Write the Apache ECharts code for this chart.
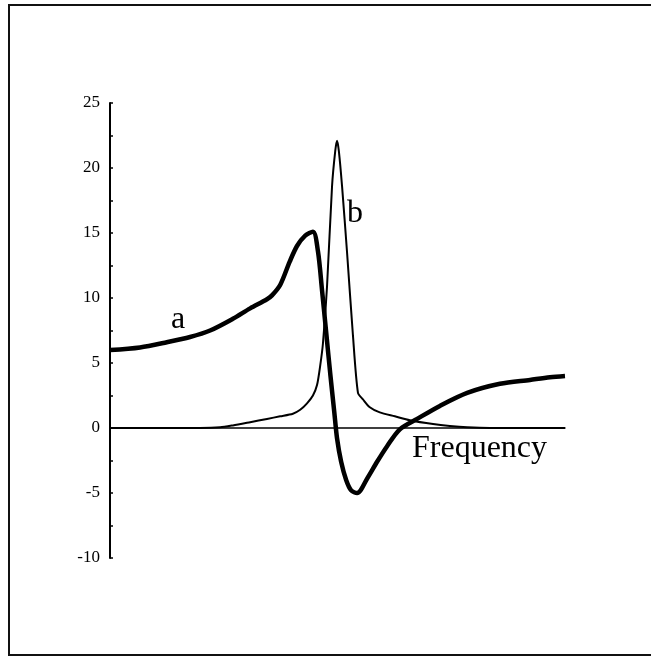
<!DOCTYPE html>
<html>
<head>
<meta charset="utf-8">
<script src="https://cdn.jsdelivr.net/npm/echarts@6/dist/echarts.min.js"></script>
<style>
  html, body { margin: 0; padding: 0; background: #fff; }
  #chart { width: 651px; height: 657px; }
</style>
</head>
<body>
<div id="chart"></div>
<script>
// Frequency response: a = real-part-like curve (thick), b = resonance peak (thin)
var freqA = [0, 6.6, 12.5, 17.6, 22, 27, 30.8, 34.5, 35.6, 37.4, 39.5, 41.1, 42.9, 44.6, 45.7, 46.6, 47.5, 48.4, 49.3, 49.9, 50.8, 51.9, 53.0, 54.3, 56.5, 58.7, 60.9, 63.7, 67.5, 72.5, 78.5, 85.7, 92.3, 96.7, 100];
var valuesA = [6.0, 6.2, 6.6, 7.0, 7.5, 8.4, 9.2, 9.9, 10.2, 11.0, 12.8, 14.0, 14.8, 15.1, 13.6, 10.6, 7.4, 4.2, 1.2, -0.8, -2.6, -4.0, -4.8, -5.0, -3.9, -2.6, -1.4, -0.1, 0.7, 1.7, 2.7, 3.4, 3.7, 3.9, 4.0];

var freqB = [0, 19.8, 24.2, 27, 30.8, 34.5, 37.4, 40.2, 41.8, 43.3, 44.6, 45.5, 46.2, 46.8, 47.7, 48.8, 49.5, 49.9, 50.3, 51, 52.1, 53.4, 54.5, 55.6, 57.1, 59.3, 62.6, 65.9, 71, 74.7, 78.5, 83.5, 100];
var valuesB = [0, 0, 0.05, 0.2, 0.45, 0.7, 0.9, 1.1, 1.4, 1.9, 2.5, 3.3, 4.8, 6.5, 10.9, 18.6, 21.3, 22.1, 21.3, 18.6, 13.5, 7.1, 2.7, 2.2, 1.6, 1.2, 0.9, 0.6, 0.3, 0.15, 0.05, 0, 0];

var yTicks = { min: -10, max: 25, step: 5 };

function pairs(xs, ys) {
  return xs.map(function (x, i) { return [x, ys[i]]; });
}

var serif = '"Liberation Serif", "Times New Roman", serif';
var chart = echarts.init(document.getElementById('chart'), null, { renderer: 'canvas' });

chart.setOption({
  animation: false,
  backgroundColor: '#ffffff',
  grid: { left: 110, right: 86, top: 103, bottom: 99 },
  xAxis: {
    type: 'value',
    min: 0,
    max: 100,
    axisLine: { show: true, onZero: true, lineStyle: { color: '#000', width: 1.5 } },
    axisTick: { show: false },
    axisLabel: { show: false },
    splitLine: { show: false }
  },
  yAxis: {
    type: 'value',
    min: yTicks.min,
    max: yTicks.max,
    interval: yTicks.step,
    axisLine: { show: true, onZero: false, lineStyle: { color: '#000', width: 2 } },
    axisTick: { show: true, inside: true, length: 3, lineStyle: { color: '#000', width: 1.5 } },
    minorTick: { show: true, splitNumber: 2, length: 3, lineStyle: { color: '#000', width: 1.5 } },
    axisLabel: { color: '#000', fontFamily: serif, fontSize: 17, margin: 10 },
    splitLine: { show: false }
  },
  series: [
    {
      name: 'b',
      type: 'line',
      data: pairs(freqB, valuesB),
      showSymbol: false,
      smooth: 0.25,
      lineStyle: { color: '#000', width: 2 },
      z: 3
    },
    {
      name: 'a',
      type: 'line',
      data: pairs(freqA, valuesA),
      showSymbol: false,
      smooth: 0.3,
      lineStyle: { color: '#000', width: 4.5 },
      z: 4
    }
  ],
  graphic: [
    {
      type: 'rect',
      shape: { x: 9, y: 5, width: 700, height: 650 },
      style: { fill: 'none', stroke: '#111', lineWidth: 2 },
      silent: true
    },
    {
      type: 'text', left: 171, top: 304,
      style: { text: 'a', font: '32px ' + serif, fill: '#000' }
    },
    {
      type: 'text', left: 347, top: 198,
      style: { text: 'b', font: '32px ' + serif, fill: '#000' }
    },
    {
      type: 'text', left: 412, top: 433,
      style: { text: 'Frequency', font: '32px ' + serif, fill: '#000' }
    }
  ]
});
</script>
</body>
</html>
